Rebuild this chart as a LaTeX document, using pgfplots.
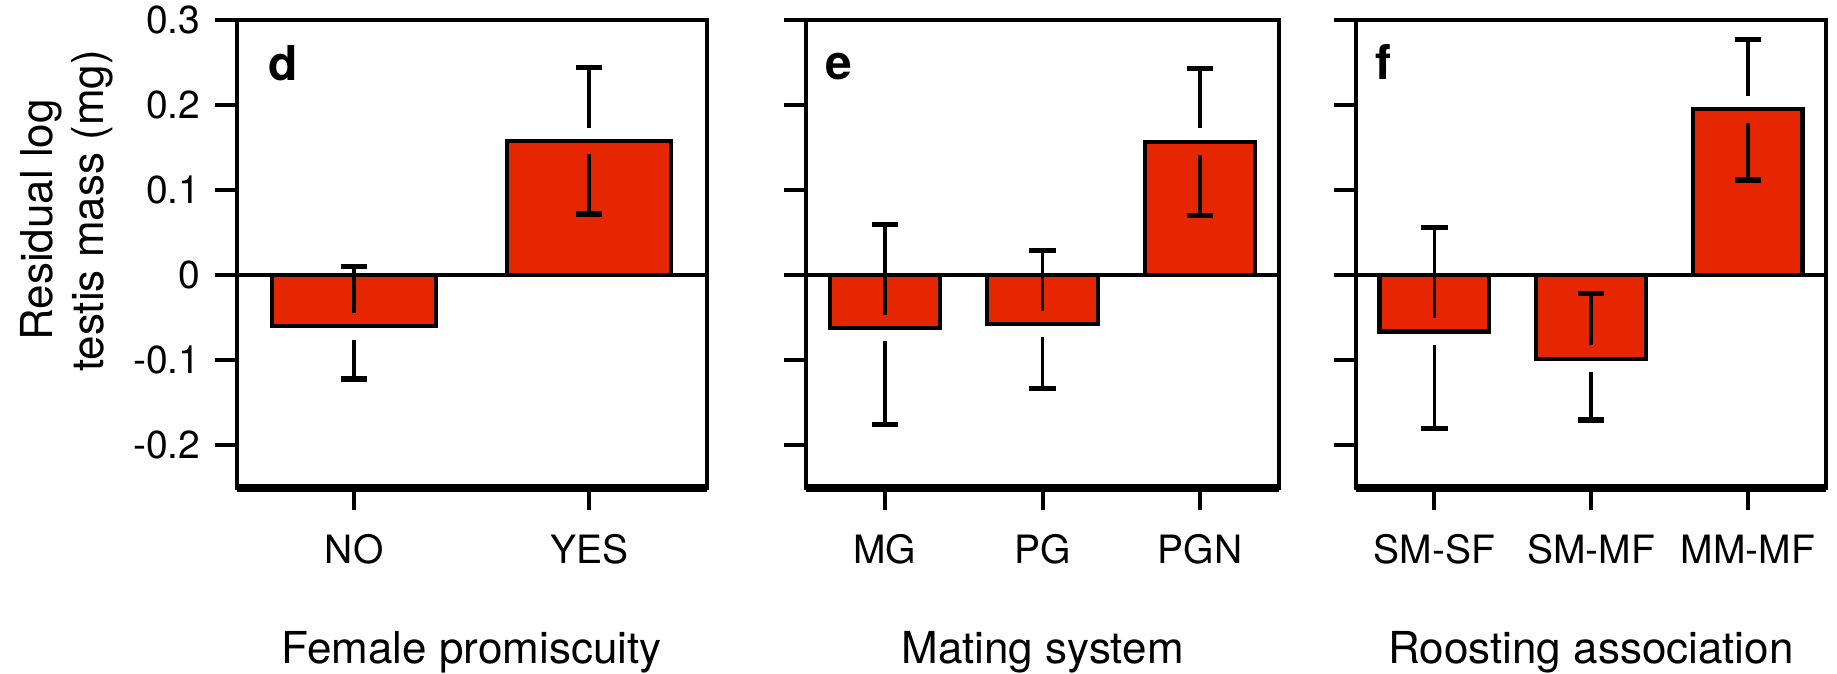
\documentclass[border=0pt]{standalone}
\usepackage{pgfplots}
\pgfplotsset{compat=1.18}
\usepackage{pgfplotstable}
\usepackage{fontspec}
\setmainfont{TeX Gyre Heros}
\definecolor{barred}{RGB}{229,38,0}

% x = category position, v = bar value, lo / hi = lower / upper end of error bar
\pgfplotstableread{
x v lo hi
0 -0.060 -0.122 0.010
1 0.158 0.072 0.244
}\tabd
\pgfplotstableread{
x v lo hi
0 -0.062 -0.175 0.060
1 -0.057 -0.133 0.029
2 0.157 0.070 0.243
}\tabe
\pgfplotstableread{
x v lo hi
0 -0.066 -0.180 0.056
1 -0.098 -0.170 -0.021
2 0.195 0.112 0.277
}\tabf

\def\gap{0.0155}

\pgfplotsset{
  panel/.style={
    scale only axis, height=117pt,
    ymin=-0.25, ymax=0.3, xmin=-0.5,
    ytick={-0.2,-0.1,0,0.1,0.2,0.3},
    xtick pos=lower, ytick pos=left,
    tick align=outside, major tick length=5.5pt,
    tick style={line width=1pt, black},
    axis line style={line width=0.95pt},
    every tick label/.append style={font=\fontsize{9.75}{11}\selectfont},
    xlabel style={font=\fontsize{11}{13}\selectfont, at={(axis description cs:0.5,0)}, anchor=base, yshift=-43.75pt},
    xticklabel style={anchor=base, yshift=-13.25pt},
    extra y ticks={0}, extra y tick labels={},
    extra y tick style={grid=major, major grid style={black, line width=0.95pt}},
    after end axis/.code={\draw[line width=2pt] (rel axis cs:0,0) -- (rel axis cs:1,0);},
  },
  bars/.style={ybar, bar width=0.7, fill=barred, draw=black, line width=1.05pt},
  errup/.style={draw=none, mark=none, forget plot,
    error bars/.cd, y dir=plus, y explicit,
    error bar style={draw=black, line width=0.9pt},
    error mark options={rotate=90, draw=black, line width=1.3pt, mark size=3.3pt}},
  errdn/.style={draw=none, mark=none, forget plot,
    error bars/.cd, y dir=minus, y explicit,
    error bar style={draw=black, line width=0.9pt},
    error mark options={rotate=90, draw=black, line width=1.3pt, mark size=3.3pt}},
}
\tikzset{letter/.style={anchor=base west, inner sep=0pt, font=\fontsize{12}{14}\selectfont\bfseries}}

\begin{document}
\begin{tikzpicture}
\path[use as bounding box] (0,0) rectangle (459.25pt,-168.25pt);

% y label
\node[rotate=90, anchor=base, font=\fontsize{11}{13}\selectfont] at (13.15pt,-55pt) {Residual log};
\node[rotate=90, anchor=base, font=\fontsize{11}{13}\selectfont] at (25.75pt,-52.75pt) {testis mass (mg)};

% panel d
\begin{axis}[panel, at={(59.15pt,-5pt)}, anchor=north west, width=117.5pt,
  xmax=1.5, xtick={0,1}, xticklabels={NO,YES},
  yticklabels={-0.2,-0.1,0,0.1,0.2,0.3},
  xlabel={Female promiscuity}]
\addplot[bars] table[x=x, y=v] {\tabd};
\addplot[errup] table[x=x, y expr=\thisrow{v}+\gap, y error plus expr=\thisrow{hi}-\thisrow{v}-\gap] {\tabd};
\addplot[errdn] table[x=x, y expr=\thisrow{v}-\gap, y error minus expr=\thisrow{v}-\gap-\thisrow{lo}] {\tabd};
\node[letter] at (rel axis cs:0,1) [xshift=7.75pt, yshift=-15.25pt] {d};
\end{axis}

% panel e
\begin{axis}[panel, at={(201.5pt,-5pt)}, anchor=north west, width=118.25pt,
  xmax=2.5, xtick={0,1,2}, xticklabels={MG,PG,PGN},
  yticklabels={},
  xlabel={Mating system}]
\addplot[bars] table[x=x, y=v] {\tabe};
\addplot[errup] table[x=x, y expr=\thisrow{v}+\gap, y error plus expr=\thisrow{hi}-\thisrow{v}-\gap] {\tabe};
\addplot[errdn] table[x=x, y expr=\thisrow{v}-\gap, y error minus expr=\thisrow{v}-\gap-\thisrow{lo}] {\tabe};
\node[letter] at (rel axis cs:0,1) [xshift=4.75pt, yshift=-15pt] {e};
\end{axis}

% panel f
\begin{axis}[panel, at={(339pt,-5pt)}, anchor=north west, width=117.5pt,
  xmax=2.5, xtick={0,1,2}, xticklabels={SM-SF,SM-MF,MM-MF},
  yticklabels={},
  xlabel={Roosting association}]
\addplot[bars] table[x=x, y=v] {\tabf};
\addplot[errup] table[x=x, y expr=\thisrow{v}+\gap, y error plus expr=\thisrow{hi}-\thisrow{v}-\gap] {\tabf};
\addplot[errdn] table[x=x, y expr=\thisrow{v}-\gap, y error minus expr=\thisrow{v}-\gap-\thisrow{lo}] {\tabf};
\node[letter] at (rel axis cs:0,1) [xshift=4.75pt, yshift=-15pt] {f};
\end{axis}
\end{tikzpicture}
\end{document}
